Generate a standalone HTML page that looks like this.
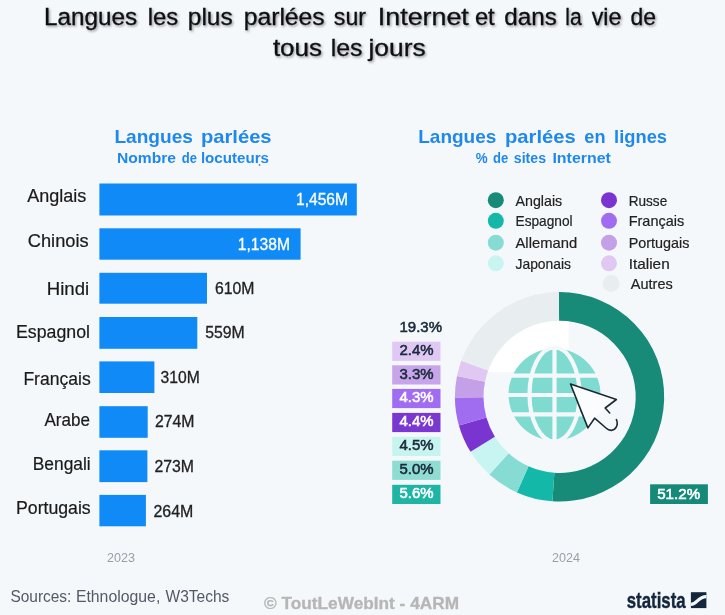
<!DOCTYPE html>
<html lang="fr"><head><meta charset="utf-8"><title>Langues les plus parlées sur Internet</title>
<style>html,body{margin:0;padding:0;background:#f5f8fb;}body{width:725px;height:615px;overflow:hidden;font-family:"Liberation Sans",sans-serif;}svg{display:block;}text{font-family:"Liberation Sans",sans-serif;}</style></head><body>
<svg width="725" height="615" viewBox="0 0 725 615">
<defs><filter id="ts" x="-5%" y="-30%" width="110%" height="170%"><feDropShadow dx="1.3" dy="1.5" stdDeviation="0.9" flood-color="#000" flood-opacity="0.38"/></filter>
<clipPath id="hole"><circle cx="559.6" cy="396.8" r="76.4"/></clipPath></defs>
<rect width="725" height="615" fill="#f5f8fb"/>
<g filter="url(#ts)" fill="#0d0d12" stroke="#0d0d12" stroke-width="0.3" font-size="23.7">
<text y="24.5" ><tspan x="43.9" textLength="93.2" lengthAdjust="spacingAndGlyphs">Langues</tspan> <tspan x="147.7" textLength="30.4" lengthAdjust="spacingAndGlyphs">les</tspan> <tspan x="187.8" textLength="44.9" lengthAdjust="spacingAndGlyphs">plus</tspan> <tspan x="243.7" textLength="81.0" lengthAdjust="spacingAndGlyphs">parlées</tspan> <tspan x="333.8" textLength="32.2" lengthAdjust="spacingAndGlyphs">sur</tspan> <tspan x="377.8" textLength="91.0" lengthAdjust="spacingAndGlyphs">Internet</tspan> <tspan x="474.9" textLength="19.7" lengthAdjust="spacingAndGlyphs">et</tspan> <tspan x="504.3" textLength="52.5" lengthAdjust="spacingAndGlyphs">dans</tspan> <tspan x="565.3" textLength="16.4" lengthAdjust="spacingAndGlyphs">la</tspan> <tspan x="591.7" textLength="29.8" lengthAdjust="spacingAndGlyphs">vie</tspan> <tspan x="630.6" textLength="25.5" lengthAdjust="spacingAndGlyphs">de</tspan></text>
<text y="55.8" ><tspan x="272.9" textLength="49.2" lengthAdjust="spacingAndGlyphs">tous</tspan> <tspan x="330.8" textLength="31.7" lengthAdjust="spacingAndGlyphs">les</tspan> <tspan x="368.5" textLength="57.1" lengthAdjust="spacingAndGlyphs">jours</tspan></text>
</g>
<g fill="#1f88ee" font-weight="bold">
<text y="143.0" font-size="19"><tspan x="114.4" textLength="78.6" lengthAdjust="spacingAndGlyphs">Langues</tspan> <tspan x="200.9" textLength="70.7" lengthAdjust="spacingAndGlyphs">parlées</tspan></text>
<text y="163.2" font-size="14.5"><tspan x="117.0" textLength="59.0" lengthAdjust="spacingAndGlyphs">Nombre</tspan> <tspan x="181.8" textLength="15.2" lengthAdjust="spacingAndGlyphs">de</tspan> <tspan x="200.9" textLength="68.1" lengthAdjust="spacingAndGlyphs">locuteurs</tspan></text>
<text y="143.0" font-size="19"><tspan x="418.2" textLength="78.2" lengthAdjust="spacingAndGlyphs">Langues</tspan> <tspan x="505.0" textLength="70.7" lengthAdjust="spacingAndGlyphs">parlées</tspan> <tspan x="584.3" textLength="21.2" lengthAdjust="spacingAndGlyphs">en</tspan> <tspan x="614.1" textLength="52.9" lengthAdjust="spacingAndGlyphs">lignes</tspan></text>
<text y="163.2" font-size="14.5"><tspan x="475.7" textLength="11.9" lengthAdjust="spacingAndGlyphs">%</tspan> <tspan x="493.1" textLength="15.2" lengthAdjust="spacingAndGlyphs">de</tspan> <tspan x="513.8" textLength="32.2" lengthAdjust="spacingAndGlyphs">sites</tspan> <tspan x="552.4" textLength="58.5" lengthAdjust="spacingAndGlyphs">Internet</tspan></text>
</g>
<circle cx="259.5" cy="165" r="0.8" fill="#3a4a5a"/>
<g fill="#108af7">
<rect x="99.4" y="183.5" width="257.4" height="32.0"/>
<rect x="99.4" y="228.3" width="201.2" height="31.4"/>
<rect x="99.4" y="272.8" width="107.6" height="30.9"/>
<rect x="99.4" y="317.0" width="97.9" height="31.8"/>
<rect x="99.4" y="361.4" width="55.0" height="31.6"/>
<rect x="99.4" y="406.2" width="48.3" height="31.6"/>
<rect x="99.4" y="450.3" width="48.0" height="31.8"/>
<rect x="99.4" y="494.9" width="46.5" height="31.4"/>
</g>
<g fill="#1a1a1a" stroke="#1a1a1a" stroke-width="0.2" font-size="17.5">
<text x="27.2" y="202.4" textLength="59.1" lengthAdjust="spacingAndGlyphs">Anglais</text>
<text x="27.8" y="247.3" textLength="60.8" lengthAdjust="spacingAndGlyphs">Chinois</text>
<text x="46.8" y="295.0" textLength="42.4" lengthAdjust="spacingAndGlyphs">Hindi</text>
<text x="16.0" y="338.0" textLength="74.0" lengthAdjust="spacingAndGlyphs">Espagnol</text>
<text x="23.4" y="384.8" textLength="67.3" lengthAdjust="spacingAndGlyphs">Français</text>
<text x="44.5" y="426.0" textLength="45.5" lengthAdjust="spacingAndGlyphs">Arabe</text>
<text x="32.8" y="470.0" textLength="57.9" lengthAdjust="spacingAndGlyphs">Bengali</text>
<text x="16.0" y="513.9" textLength="74.7" lengthAdjust="spacingAndGlyphs">Portugais</text>
</g>
<g font-size="16.3" stroke-width="0.3">
<text x="296.0" y="204.9" fill="#fff" stroke="#fff" textLength="52.0" lengthAdjust="spacingAndGlyphs">1,456M</text>
<text x="237.7" y="249.6" fill="#fff" stroke="#fff" textLength="52.3" lengthAdjust="spacingAndGlyphs">1,138M</text>
<text x="214.9" y="294.1" fill="#222" stroke="#222" textLength="39.5" lengthAdjust="spacingAndGlyphs">610M</text>
<text x="205.2" y="338.0" fill="#222" stroke="#222" textLength="39.5" lengthAdjust="spacingAndGlyphs">559M</text>
<text x="160.6" y="382.8" fill="#222" stroke="#222" textLength="39.2" lengthAdjust="spacingAndGlyphs">310M</text>
<text x="155.0" y="427.3" fill="#222" stroke="#222" textLength="39.5" lengthAdjust="spacingAndGlyphs">274M</text>
<text x="154.4" y="471.5" fill="#222" stroke="#222" textLength="39.5" lengthAdjust="spacingAndGlyphs">273M</text>
<text x="153.5" y="516.5" fill="#222" stroke="#222" textLength="39.8" lengthAdjust="spacingAndGlyphs">264M</text>
</g>
<text x="107" y="562" font-size="12.3" fill="#9a9fa5" textLength="28" lengthAdjust="spacingAndGlyphs">2023</text>
<text x="552" y="562" font-size="12.3" fill="#9a9fa5" textLength="28" lengthAdjust="spacingAndGlyphs">2024</text>
<text y="601.6" font-size="15.7" fill="#525a66"><tspan x="10.4" textLength="61.0" lengthAdjust="spacingAndGlyphs">Sources:</tspan> <tspan x="75.9" textLength="84.4" lengthAdjust="spacingAndGlyphs">Ethnologue,</tspan> <tspan x="165.5" textLength="63.8" lengthAdjust="spacingAndGlyphs">W3Techs</tspan></text>
<text x="264" y="608.7" font-size="16.3" font-weight="bold" fill="#b6b6b6" stroke="#b6b6b6" stroke-width="0.3" textLength="195" lengthAdjust="spacingAndGlyphs">© ToutLeWebInt - 4ARM</text>
<text x="626.7" y="607.8" font-size="21.5" font-weight="bold" fill="#14263c" stroke="#14263c" stroke-width="0.4" textLength="59" lengthAdjust="spacingAndGlyphs">statista</text>
<g><rect x="690.9" y="592.2" width="15.5" height="15.9" fill="#14263c"/>
<path d="M690.9 604.4 C697.5 604.4 697.5 596.6 706.4 596.6" fill="none" stroke="#f5f8fb" stroke-width="3.2"/></g>
<g font-size="14.6" fill="#222" stroke="#222" stroke-width="0.2">
<circle cx="495.8" cy="200.2" r="8" fill="#178a78" stroke="none"/><text x="515.5" y="206.0" textLength="46.7" lengthAdjust="spacingAndGlyphs">Anglais</text>
<circle cx="609" cy="200.2" r="8" fill="#7a35d0" stroke="none"/><text x="628.7" y="206.0" textLength="38.5" lengthAdjust="spacingAndGlyphs">Russe</text>
<circle cx="495.8" cy="220.8" r="8" fill="#14b8a8" stroke="none"/><text x="515.5" y="226.2" textLength="57.1" lengthAdjust="spacingAndGlyphs">Espagnol</text>
<circle cx="609" cy="220.8" r="8" fill="#a06cf0" stroke="none"/><text x="628.7" y="226.2" textLength="55.5" lengthAdjust="spacingAndGlyphs">Français</text>
<circle cx="495.8" cy="242.7" r="8" fill="#86dcd3" stroke="none"/><text x="515.5" y="248.0" textLength="61.6" lengthAdjust="spacingAndGlyphs">Allemand</text>
<circle cx="609" cy="242.7" r="8" fill="#c4a0e8" stroke="none"/><text x="628.7" y="248.0" textLength="60.7" lengthAdjust="spacingAndGlyphs">Portugais</text>
<circle cx="495.8" cy="263.3" r="8" fill="#c8f5f2" stroke="none"/><text x="515.5" y="269.2" textLength="55.5" lengthAdjust="spacingAndGlyphs">Japonais</text>
<circle cx="609" cy="263.3" r="8" fill="#e0c8f2" stroke="none"/><text x="628.7" y="269.2" textLength="41.0" lengthAdjust="spacingAndGlyphs">Italien</text>
<circle cx="611.1" cy="283.6" r="8.5" fill="#e8edf0" stroke="none"/><text x="630.8" y="288.8" textLength="41.9" lengthAdjust="spacingAndGlyphs">Autres</text>
</g>
<rect x="478" y="316" width="90.5" height="56.2" fill="#fff" clip-path="url(#hole)"/>
<path d="M558.87 292.10A104.7 104.7 0 1 1 552.44 501.26L554.40 472.72A76.1 76.1 0 1 0 559.07 320.70Z" fill="#178a78"/>
<path d="M552.44 501.26A104.7 104.7 0 0 1 516.88 492.39L528.55 466.28A76.1 76.1 0 0 0 554.40 472.72Z" fill="#14b8a8"/>
<path d="M516.88 492.39A104.7 104.7 0 0 1 489.43 474.51L508.60 453.28A76.1 76.1 0 0 0 528.55 466.28Z" fill="#86dcd3"/>
<path d="M489.43 474.51A104.7 104.7 0 0 1 470.54 451.85L494.87 436.81A76.1 76.1 0 0 0 508.60 453.28Z" fill="#c8f5f2"/>
<path d="M470.54 451.85A104.7 104.7 0 0 1 458.90 425.45L486.40 417.62A76.1 76.1 0 0 0 494.87 436.81Z" fill="#7a35d0"/>
<path d="M458.90 425.45A104.7 104.7 0 0 1 454.90 397.53L483.50 397.33A76.1 76.1 0 0 0 486.40 417.62Z" fill="#a06cf0"/>
<path d="M454.90 397.53A104.7 104.7 0 0 1 456.99 375.96L485.02 381.65A76.1 76.1 0 0 0 483.50 397.33Z" fill="#c4a0e8"/>
<path d="M456.99 375.96A104.7 104.7 0 0 1 461.29 360.78L488.14 370.62A76.1 76.1 0 0 0 485.02 381.65Z" fill="#e0c8f2"/>
<path d="M461.29 360.78A104.7 104.7 0 0 1 558.87 292.10L559.07 320.70A76.1 76.1 0 0 0 488.14 370.62Z" fill="#e8edf0"/>
<circle cx="554.5" cy="394.5" r="46" fill="#7fdad0"/>
<g stroke="#f5f8fb" stroke-width="4.2" fill="none">
<line x1="554.5" y1="347.5" x2="554.5" y2="441.5"/>
<line x1="507.5" y1="375.7" x2="601.5" y2="375.7"/>
<line x1="507.5" y1="395.0" x2="601.5" y2="395.0"/>
<line x1="507.5" y1="414.3" x2="601.5" y2="414.3"/>
<ellipse cx="554.5" cy="394.5" rx="25" ry="47.0"/>
</g>
<path d="M570.5 384 L616.4 399.5 L605.2 408 L594.6 418.2 L587.9 427.9 Z" fill="#fafcfd"/>
<g fill="none" stroke="#1c2833" stroke-width="1.6" stroke-linejoin="round" stroke-linecap="round">
<path d="M609.7 413 L605.2 408 L616.4 399.5 L570.5 384 L587.9 427.9 L594.6 418.2 L606 428 C609.5 431.5 614 431 616 427.5 C617.5 425 617.5 422 616.4 419.6"/>
</g>
<g font-size="14.8" stroke-width="0.55">
<text x="399.5" y="332.0" fill="#1a2a3a" stroke="#1a2a3a" textLength="42.5" lengthAdjust="spacingAndGlyphs">19.3%</text>
<rect x="392.2" y="341.7" width="48.3" height="19.2" fill="#e0c8f4"/>
<text x="399.5" y="355.2" fill="#1a2a3a" stroke="#1a2a3a" textLength="34.1" lengthAdjust="spacingAndGlyphs">2.4%</text>
<rect x="392.2" y="365.3" width="48.3" height="19.2" fill="#c8a4ea"/>
<text x="399.5" y="378.8" fill="#1a2a3a" stroke="#1a2a3a" textLength="34.1" lengthAdjust="spacingAndGlyphs">3.3%</text>
<rect x="392.2" y="388.9" width="48.3" height="19.2" fill="#a06cf2"/>
<text x="399.5" y="402.4" fill="#fff" stroke="#fff" textLength="34.1" lengthAdjust="spacingAndGlyphs">4.3%</text>
<rect x="392.2" y="412.9" width="48.3" height="19.2" fill="#7a38d0"/>
<text x="399.5" y="426.4" fill="#fff" stroke="#fff" textLength="34.1" lengthAdjust="spacingAndGlyphs">4.4%</text>
<rect x="392.2" y="436.8" width="48.3" height="19.2" fill="#c8f4f0"/>
<text x="399.5" y="450.3" fill="#1a2a3a" stroke="#1a2a3a" textLength="34.1" lengthAdjust="spacingAndGlyphs">4.5%</text>
<rect x="392.2" y="460.7" width="48.3" height="19.2" fill="#8fdcd3"/>
<text x="399.5" y="474.2" fill="#1a2a3a" stroke="#1a2a3a" textLength="34.1" lengthAdjust="spacingAndGlyphs">5.0%</text>
<rect x="392.2" y="484.8" width="48.3" height="19.2" fill="#1fb5a5"/>
<text x="399.5" y="498.3" fill="#fff" stroke="#fff" textLength="34.1" lengthAdjust="spacingAndGlyphs">5.6%</text>
<rect x="650.1" y="484.3" width="57.8" height="19.7" fill="#168a78"/>
<text x="657.2" y="498.8" fill="#fff" stroke="#fff" textLength="42.9" lengthAdjust="spacingAndGlyphs">51.2%</text>
</g>
</svg></body></html>
